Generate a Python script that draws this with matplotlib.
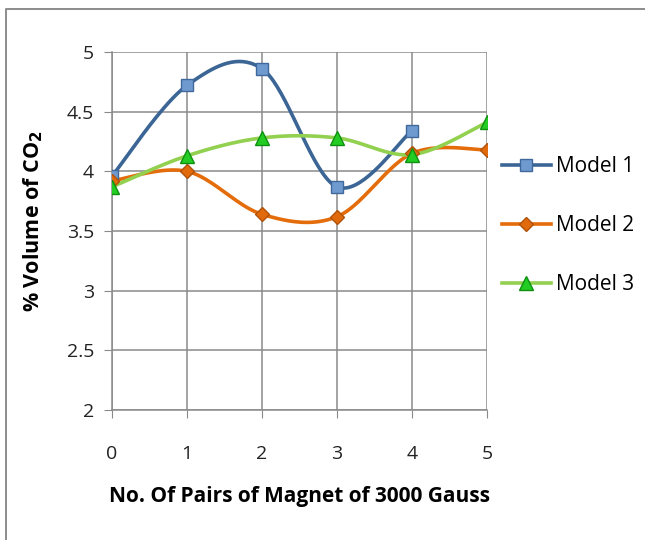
import matplotlib.pyplot as plt
import numpy as np

# values
pairs = [0, 1, 2, 3, 4, 5]
model1 = [3.96, 4.72, 4.86, 3.87, 4.34]
model2 = [3.92, 4.00, 3.64, 3.62, 4.15, 4.18]
model3 = [3.87, 4.13, 4.28, 4.28, 4.14, 4.41]
labels = ["Model 1", "Model 2", "Model 3"]


def smooth(x, y, n=40):
    # Excel-style smoothed line (Catmull-Rom through each point)
    x = np.asarray(x, float)
    y = np.asarray(y, float)
    px = np.concatenate([[x[0]], x, [x[-1]]])
    py = np.concatenate([[y[0]], y, [y[-1]]])
    xs, ys = [], []
    t = np.linspace(0, 1, n)
    for i in range(1, len(px) - 2):
        p0, p1, p2, p3 = (np.array([px[j], py[j]]) for j in (i - 1, i, i + 1, i + 2))
        c1 = p1 + (p2 - p0) / 6
        c2 = p2 - (p3 - p1) / 6
        b = ((1 - t) ** 3)[:, None] * p1 + (3 * (1 - t) ** 2 * t)[:, None] * c1 \
            + (3 * (1 - t) * t ** 2)[:, None] * c2 + (t ** 3)[:, None] * p2
        xs.extend(b[:, 0])
        ys.extend(b[:, 1])
    return xs, ys


plt.rcParams['font.family'] = ['Open Sans', 'DejaVu Sans']

fig = plt.figure(figsize=(6.45, 5.4), dpi=100)
# outer chart border: only left and top edges fall inside the image
fig.add_artist(plt.Line2D([6 / 645, 6 / 645, 1.0], [0.0, 1 - 9 / 540, 1 - 9 / 540],
                          transform=fig.transFigure, color='#8c8c8c', linewidth=1.4))
ax = fig.add_axes([112 / 645, 1 - 410 / 540, 375 / 645, 358 / 540])

styles = [
    dict(line='#3b6595', marker='s', mfc='#6f9ad0', mec='#41689a', ms=8.5),
    dict(line='#e46c0a', marker='D', mfc='#e06a0c', mec='#b0520a', ms=7),
    dict(line='#92d050', marker='^', mfc='#22cc22', mec='#109010', ms=9.5),
]
handles = []
for xs_, ys_, st, lab in zip([pairs[:5], pairs, pairs], [model1, model2, model3], styles, labels):
    sx, sy = smooth(xs_, ys_)
    ax.plot(sx, sy, color=st['line'], linewidth=2.6, zorder=3)
    ax.plot(xs_, ys_, linestyle='none', marker=st['marker'], markersize=st['ms'],
            markerfacecolor=st['mfc'], markeredgecolor=st['mec'], zorder=4)
    h, = ax.plot([], [], color=st['line'], linewidth=2.6, marker=st['marker'],
                 markersize=st['ms'], markerfacecolor=st['mfc'], markeredgecolor=st['mec'], label=lab)
    handles.append(h)

ax.set_xlim(0, 5)
ax.set_ylim(2, 5)
ax.set_xticks(pairs)
ax.set_yticks([2, 2.5, 3, 3.5, 4, 4.5, 5])
ax.set_yticklabels(['2', '2.5', '3', '3.5', '4', '4.5', '5'])
ax.grid(True, color='#8a8a8a', linewidth=1.1)
ax.set_axisbelow(True)
for s in ['top', 'right']:
    ax.spines[s].set_visible(False)
for s in ['left', 'bottom']:
    ax.spines[s].set_color('#8a8a8a')
    ax.spines[s].set_linewidth(1.1)
ax.tick_params(direction='out', length=6, color='#8a8a8a', labelsize=14,
               labelcolor='#222222')
ax.tick_params(axis='y', pad=7)
ax.tick_params(axis='x', pad=19)

ax.set_xlabel("No. Of Pairs of Magnet of 3000 Gauss", fontsize=15, fontweight='bold', labelpad=17)
ax.set_ylabel("% Volume of CO$_\\mathbf{2}$", fontsize=15.5, fontweight='bold')
ax.yaxis.set_label_coords(-0.178, 0.528)

fig.legend(handles=handles, loc='upper left', bbox_to_anchor=(502 / 645, 1 - 156 / 540),
           frameon=False, fontsize=15, handlelength=2.35, handletextpad=0.25,
           labelspacing=1.83, borderaxespad=0, borderpad=0)

plt.savefig("out.png", dpi=100)
